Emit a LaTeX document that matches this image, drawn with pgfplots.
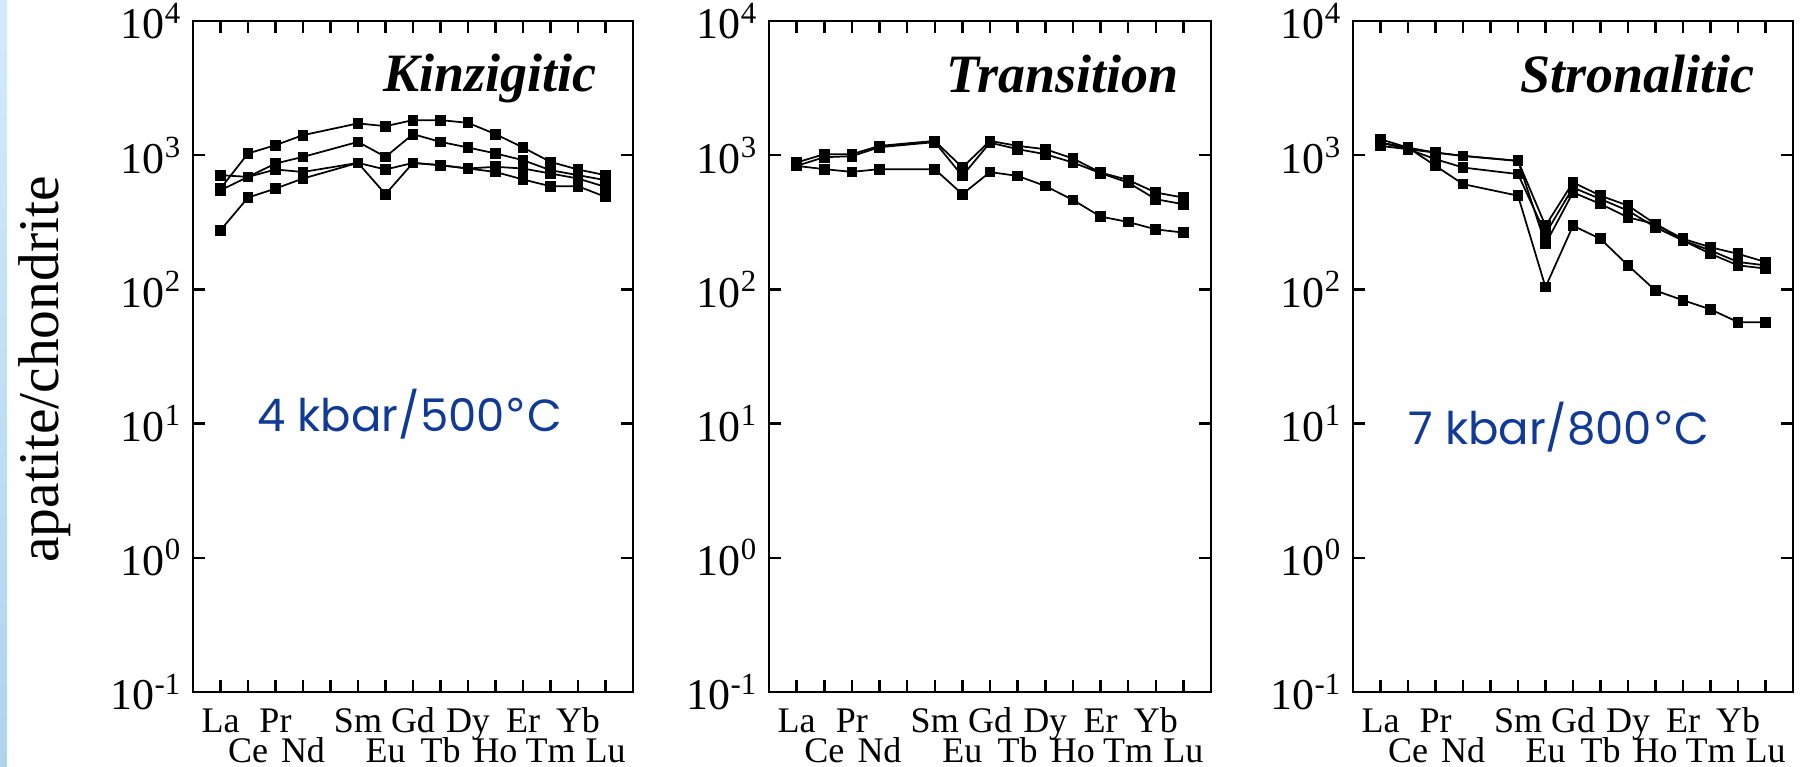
\documentclass[border=0pt]{standalone}
\usepackage{fontspec}
\setmainfont{Liberation Serif}
\newfontfamily\gothic{Poppins}
\newfontfamily\dejavu{DejaVu Sans}
\usepackage{pgfplots}
\pgfplotsset{compat=1.18}
\usepackage{pgfplotstable}

\definecolor{notecolor}{RGB}{16,58,150}
\definecolor{stripA}{RGB}{210,235,250}
\definecolor{stripB}{RGB}{175,212,238}

% Chondrite-normalised REE in apatite (x = position in the REE series, Pm = 5 left out)
\pgfplotstableread{
x A B C D
1 564 710 548 276
2 1030 689 689 483
3 1188 867 782 564
4 1410 971 750 670
6 1725 1256 876 876
7 1645 971 782 512
8 1825 1435 876 876
9 1825 1256 842 842
10 1742 1141 796 796
11 1435 1030 819 750
12 1141 918 796 659
13 891 773 730 587
14 782 710 670 587
15 710 651 580 489
}\kinz

\pgfplotstableread{
x A B C
1 882 832 832
2 1017 966 787
3 1017 983 751
4 1173 1147 787
6 1278 1251 787
7 810 701 512
8 1278 1240 748
9 1173 1109 701
10 1109 1017 590
11 945 882 464
12 743 735 349
13 654 625 318
14 527 470 280
15 483 431 265
}\trans

\pgfplotstableread{
x A B C D
1 1314 1241 1172 1241
2 1139 1108 1108 1139
3 1045 934 1045 833
4 988 809 988 609
6 907 723 907 499
7 298 259 218 104
8 627 574 528 298
9 499 471 433 238
10 421 386 344 151
11 307 290 307 98
12 238 231 231 83
13 206 195 184 71
14 184 160 151 57
15 160 151 143 57
}\stron

\pgfplotsset{
  every axis/.append style={
    scale only axis, width=176pt, height=268.4pt, anchor=south west,
    ymin=0.1, ymax=10000, xmin=0, xmax=16,
    axis line style={line width=1pt},
    tick align=inside, major tick length=4.8pt,
    yminorticks=false,
    xtick={1,...,15},
    xticklabels={La,,Pr,,,Sm,,Gd,,Dy,,Er,,Yb,},
    extra x ticks={2,4,7,9,11,13,15},
    extra x tick labels={Ce,Nd,Eu,Tb,Ho,Tm,Lu},
    extra x tick style={major tick length=0pt,
      xticklabel style={yshift=-11.8pt}},
    xticklabel style={font=\fontsize{14.4}{14.4}\selectfont, anchor=north,
      inner sep=0pt, text height=9.6pt, text depth=0pt, yshift=-6.6pt},
    ytick={0.1,1,10,100,1000,10000},
    yticklabels={10\textsuperscript{-1},10\textsuperscript{0},10\textsuperscript{1},
      10\textsuperscript{2},10\textsuperscript{3},10\textsuperscript{4}},
    yticklabel style={font=\fontsize{17.6}{17.6}\selectfont, anchor=east,
      inner sep=0pt, xshift=-4.4pt},
  },
  every tick/.style={black, line width=1pt},
  every axis plot post/.append style={black, solid, line width=0.7pt,
    mark=square*, mark size=1.8pt, mark options={solid, fill=black}},
}

\begin{document}
\begin{tikzpicture}
\path[use as bounding box] (0,0) rectangle (723.2pt,306.8pt);
\shade[top color=stripA, bottom color=stripB] (0,0) rectangle (2.8pt,306.8pt);

\node[rotate=90, font=\fontsize{23}{23}\selectfont, inner sep=0pt]
  at (18pt,159pt) {apatite/chondrite};

% Kinzigitic
\begin{semilogyaxis}[at={(77.2pt,30pt)}]
  \addplot table[x=x, y=A] {\kinz};
  \addplot table[x=x, y=B] {\kinz};
  \addplot table[x=x, y=C] {\kinz};
  \addplot table[x=x, y=D] {\kinz};
\end{semilogyaxis}

% Transition
\begin{semilogyaxis}[at={(307.6pt,30pt)}, width=176.8pt]
  \addplot table[x=x, y=A] {\trans};
  \addplot table[x=x, y=B] {\trans};
  \addplot table[x=x, y=C] {\trans};
\end{semilogyaxis}

% Stronalitic
\begin{semilogyaxis}[at={(541.2pt,30pt)}]
  \addplot table[x=x, y=A] {\stron};
  \addplot table[x=x, y=B] {\stron};
  \addplot table[x=x, y=C] {\stron};
  \addplot table[x=x, y=D] {\stron};
\end{semilogyaxis}

\begin{scope}[every node/.style={anchor=base east, inner sep=0pt,
    font=\fontsize{21.6}{21.6}\selectfont\bfseries\itshape}]
  \node at (238.8pt,270pt) {Kinzigitic};
  \node at (471.6pt,269.6pt) {Transition};
  \node at (702pt,269.6pt) {Stronalitic};
\end{scope}

\begin{scope}[every node/.style={anchor=base west, inner sep=0pt,
    text=notecolor, font=\gothic\fontsize{18}{18}\selectfont}]
  \node at (102.8pt,134pt) {4 kbar/500{\dejavu °}C};
  \node at (563.2pt,128.8pt) {7 kbar/800{\dejavu °}C};
\end{scope}
\end{tikzpicture}
\end{document}
